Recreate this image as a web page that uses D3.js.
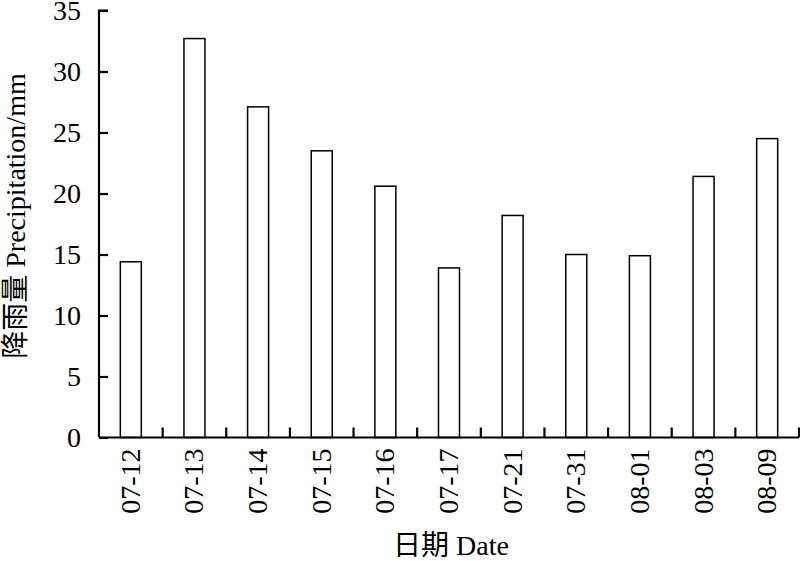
<!DOCTYPE html>
<html><head><meta charset="utf-8">
<script src="https://cdn.jsdelivr.net/npm/d3@7"></script>
<style>body{margin:0;background:#fff}svg{display:block}</style>
</head><body>
<svg id="c" width="800" height="561"></svg>
<script>
const categories = ["07-12","07-13","07-14","07-15","07-16","07-17","07-21","07-31","08-01","08-03","08-09"];
const values = [14.4, 32.7, 27.1, 23.5, 20.6, 13.9, 18.2, 15.0, 14.9, 21.4, 24.5];
const yTicks = [0,5,10,15,20,25,30,35];
const yTitle = "降雨量 Precipitation/mm";
const xTitle = "日期 Date";

(function(){
const svg = d3.select("#c");
const font = "'Liberation Serif','Times New Roman','Noto Sans CJK SC',serif";
const pL = 99, pR = 799, pT = 10.5, pB = 437.5;

const x = d3.scaleBand().domain(categories).range([pL, pR]).paddingInner(0).paddingOuter(0);
const y = d3.scaleLinear().domain([0, 35]).range([pB, pT]);

const bw = x.bandwidth() * 0.33;
svg.append("g").selectAll("rect").data(categories).join("rect")
  .attr("x", d => x(d) + x.bandwidth()/2 - bw/2)
  .attr("y", (d,i) => y(values[i]))
  .attr("width", bw)
  .attr("height", (d,i) => pB - y(values[i]))
  .attr("fill", "#fff").attr("stroke", "#000").attr("stroke-width", 1.5);

const ya = svg.append("g").attr("transform", `translate(${pL},0)`)
  .call(d3.axisRight(y).tickValues(yTicks).tickSize(9).tickFormat(d3.format("d")));
ya.select(".domain").attr("stroke-width", 2.2).attr("d", `M9,${pT}H0V${pB}`);
ya.selectAll(".tick line").attr("stroke-width", 2.2);
ya.selectAll(".tick text").attr("x", -18).attr("text-anchor", "end")
  .style("font-family", font).style("font-size", "28px").attr("fill", "#000").attr("dy", "0.33em");

const xa = svg.append("g");
xa.append("line").attr("x1", pL).attr("x2", pR).attr("y1", pB).attr("y2", pB)
  .attr("stroke", "#000").attr("stroke-width", 2.2);
const bounds = categories.map(d => x(d) + x.bandwidth());
xa.selectAll("line.t").data(bounds).join("line").attr("class","t")
  .attr("x1", d => d).attr("x2", d => d).attr("y1", pB).attr("y2", pB - 10)
  .attr("stroke", "#000").attr("stroke-width", 2.2);
xa.selectAll("text").data(categories).join("text")
  .attr("transform", d => `translate(${x(d) + x.bandwidth()/2 + 9},${pB + 11}) rotate(-90)`)
  .attr("text-anchor", "end")
  .style("font-family", font).style("font-size", "28px").attr("fill", "#000")
  .text(d => d);

svg.append("text").attr("transform", `translate(25,216) rotate(-90)`)
  .attr("text-anchor", "middle").style("font-family", font).style("font-size", "28px")
  .attr("fill", "#000").text(yTitle);
svg.append("text").attr("x", 451).attr("y", 555).attr("text-anchor", "middle")
  .style("font-family", font).style("font-size", "28px").attr("fill", "#000").text(xTitle);
})();
</script>
</body></html>
